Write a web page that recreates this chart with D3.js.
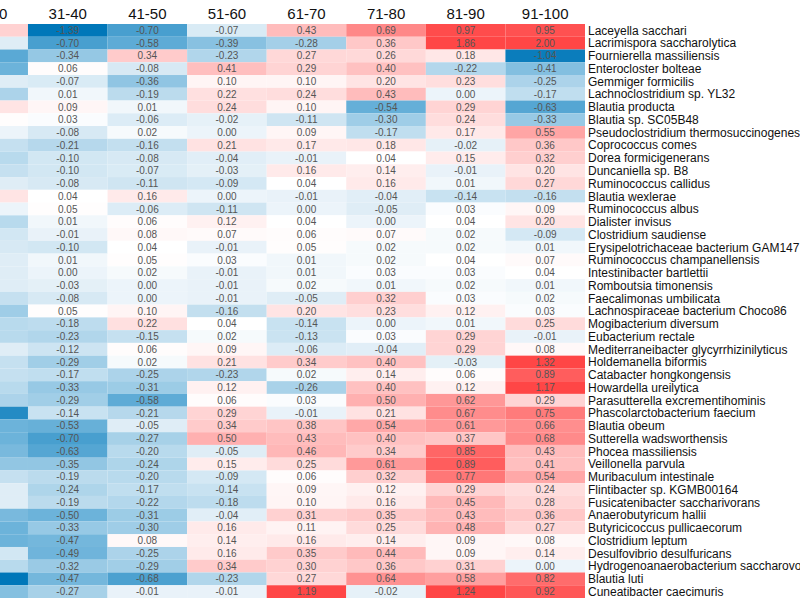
<!DOCTYPE html>
<html>
<head>
<meta charset="utf-8">
<script src="https://cdn.jsdelivr.net/npm/d3@7"></script>
<style>
  body { margin: 0; background: #fff; overflow: hidden; }
  text { font-family: "Liberation Sans", Arial, sans-serif; }
</style>
</head>
<body>
<div id="heatmap"></div>
<script>
var svgWidth = 800;
var svgHeight = 600;

// age groups (first one is cut off at the left edge)
var ageGroups = ["21-30", "31-40", "41-50", "51-60", "61-70", "71-80", "81-90", "91-100"];

var species = [
  "Laceyella sacchari", "Lacrimispora saccharolytica", "Fournierella massiliensis",
  "Enterocloster bolteae", "Gemmiger formicilis", "Lachnoclostridium sp. YL32",
  "Blautia producta", "Blautia sp. SC05B48", "Pseudoclostridium thermosuccinogenes",
  "Coprococcus comes", "Dorea formicigenerans", "Duncaniella sp. B8",
  "Ruminococcus callidus", "Blautia wexlerae", "Ruminococcus albus",
  "Dialister invisus", "Clostridium saudiense", "Erysipelotrichaceae bacterium GAM147",
  "Ruminococcus champanellensis", "Intestinibacter bartlettii", "Romboutsia timonensis",
  "Faecalimonas umbilicata", "Lachnospiraceae bacterium Choco86", "Mogibacterium diversum",
  "Eubacterium rectale", "Mediterraneibacter glycyrrhizinilyticus", "Holdemanella biformis",
  "Catabacter hongkongensis", "Howardella ureilytica", "Parasutterella excrementihominis",
  "Phascolarctobacterium faecium", "Blautia obeum", "Sutterella wadsworthensis",
  "Phocea massiliensis", "Veillonella parvula", "Muribaculum intestinale",
  "Flintibacter sp. KGMB00164", "Fusicatenibacter saccharivorans", "Anaerobutyricum hallii",
  "Butyricicoccus pullicaecorum", "Clostridium leptum", "Desulfovibrio desulfuricans",
  "Hydrogenoanaerobacterium saccharovorans", "Blautia luti", "Cuneatibacter caecimuris"
];

// one row per species, one value per age group
var values = [
  [0.30, -1.39, -0.70, -0.07, 0.43, 0.69, 0.97, 0.95],
  [-0.05, -0.70, -0.58, -0.39, -0.28, 0.36, 1.86, 2.00],
  [-0.60, -0.34, 0.34, -0.23, 0.27, 0.26, 0.18, -1.04],
  [-0.50, 0.06, -0.08, 0.41, 0.29, 0.40, -0.22, -0.41],
  [-0.05, -0.07, -0.36, 0.10, 0.10, 0.20, 0.23, -0.25],
  [-0.25, 0.01, -0.19, 0.22, 0.24, 0.43, -0.00, -0.17],
  [0.20, 0.09, 0.01, 0.24, 0.10, -0.54, 0.29, -0.63],
  [0.05, 0.03, -0.06, -0.02, -0.11, -0.30, 0.24, -0.33],
  [0.00, -0.08, 0.02, -0.00, 0.09, -0.17, 0.17, 0.55],
  [-0.15, -0.21, -0.16, 0.21, 0.17, 0.18, -0.02, 0.36],
  [-0.20, -0.10, -0.08, -0.04, -0.01, 0.04, 0.15, 0.32],
  [-0.15, -0.10, -0.07, -0.03, 0.16, 0.14, -0.01, 0.20],
  [-0.05, -0.08, -0.11, -0.09, 0.04, 0.16, 0.01, 0.27],
  [0.20, 0.04, 0.16, 0.00, -0.01, -0.04, -0.14, -0.16],
  [0.00, 0.05, -0.06, -0.11, 0.00, -0.05, 0.03, 0.09],
  [-0.20, 0.01, 0.06, 0.12, 0.04, 0.00, 0.04, 0.20],
  [-0.10, -0.01, 0.08, 0.07, 0.06, 0.07, 0.02, -0.09],
  [-0.08, -0.10, 0.04, -0.01, 0.05, 0.02, 0.02, 0.01],
  [-0.05, 0.01, 0.05, 0.03, 0.01, 0.02, 0.04, 0.07],
  [-0.05, 0.00, 0.02, -0.01, 0.01, 0.03, 0.03, 0.04],
  [-0.05, -0.03, 0.00, -0.01, 0.02, 0.01, 0.02, 0.01],
  [-0.15, -0.08, 0.00, -0.01, -0.05, 0.32, 0.03, 0.02],
  [-0.30, 0.05, 0.10, -0.16, 0.20, 0.23, 0.12, 0.03],
  [-0.20, -0.18, 0.22, 0.04, -0.14, -0.00, 0.01, 0.25],
  [-0.20, -0.23, -0.15, 0.02, -0.13, 0.03, 0.29, -0.01],
  [-0.05, -0.12, 0.06, 0.09, -0.06, -0.04, 0.29, 0.08],
  [-0.15, -0.29, 0.02, 0.21, 0.34, 0.40, -0.03, 1.32],
  [-0.15, -0.17, -0.25, -0.23, 0.02, 0.14, 0.06, 0.89],
  [-0.20, -0.33, -0.31, 0.12, -0.26, 0.40, 0.12, 1.17],
  [-0.25, -0.29, -0.58, 0.06, 0.03, 0.50, 0.62, 0.29],
  [-0.90, -0.14, -0.21, 0.29, -0.01, 0.21, 0.67, 0.75],
  [-0.50, -0.53, -0.05, 0.34, 0.38, 0.54, 0.61, 0.66],
  [-0.50, -0.70, -0.27, 0.50, 0.43, 0.40, 0.37, 0.68],
  [-0.45, -0.63, -0.20, -0.05, 0.46, 0.34, 0.85, 0.43],
  [-0.35, -0.35, -0.24, 0.15, 0.25, 0.61, 0.89, 0.41],
  [-0.15, -0.19, -0.20, -0.09, 0.06, 0.32, 0.77, 0.54],
  [-0.05, -0.24, -0.17, -0.14, 0.09, 0.12, 0.29, 0.24],
  [-0.05, -0.19, -0.22, -0.18, 0.10, 0.16, 0.45, 0.28],
  [-0.45, -0.50, -0.31, -0.04, 0.31, 0.35, 0.43, 0.36],
  [-0.50, -0.33, -0.30, 0.16, 0.11, 0.25, 0.48, 0.27],
  [-0.50, -0.47, 0.08, 0.14, 0.16, 0.14, 0.09, 0.08],
  [-0.10, -0.49, -0.25, 0.16, 0.35, 0.44, 0.09, 0.14],
  [-0.20, -0.32, -0.29, 0.34, 0.30, 0.36, 0.31, 0.00],
  [-1.10, -0.47, -0.68, -0.23, 0.27, 0.64, 0.58, 0.82],
  [-0.40, -0.27, -0.01, -0.01, 1.19, -0.02, 1.24, 0.92]
];

// flatten into cells
var cells = [];
species.forEach(function(s, i) {
  ageGroups.forEach(function(g, j) {
    cells.push({ species: s, group: g, value: values[i][j] });
  });
});

var svg = d3.select("#heatmap")
  .append("svg")
  .attr("width", svgWidth)
  .attr("height", svgHeight);

var xScale = d3.scaleBand()
  .domain(ageGroups)
  .range([-51.6, 585]);

var yScale = d3.scaleBand()
  .domain(species)
  .range([24, 598]);

// blue - white - red, saturating around +-1
var colorScale = d3.scaleLinear()
  .domain([-1.1, -0.5, -0.005, 0.04, 0.5, 1.0])
  .range(["#0077b9", "#6cb3da", "#eaf3f9", "#ffffff", "#ffb0b0", "#ff4646"])
  .clamp(true);

var cellGroup = svg.append("g");

cellGroup.selectAll("rect")
  .data(cells)
  .enter()
  .append("rect")
  .attr("x", d => xScale(d.group))
  .attr("y", d => yScale(d.species))
  .attr("width", xScale.bandwidth())
  .attr("height", yScale.bandwidth())
  .attr("fill", d => colorScale(d.value));

// value labels; the first column's numbers fall outside the window anyway
cellGroup.selectAll("text")
  .data(cells.filter(d => xScale(d.group) >= 0))
  .enter()
  .append("text")
  .attr("x", d => xScale(d.group) + xScale.bandwidth() / 2)
  .attr("y", d => yScale(d.species) + yScale.bandwidth() / 2)
  .attr("dy", "0.36em")
  .attr("text-anchor", "middle")
  .attr("font-size", "10px")
  .attr("fill", "#555")
  .text(d => d.value.toFixed(2));

// column headers
svg.append("g")
  .selectAll("text")
  .data(ageGroups)
  .enter()
  .append("text")
  .attr("x", d => xScale(d) + xScale.bandwidth() / 2)
  .attr("y", 14)
  .attr("dy", "0.36em")
  .attr("text-anchor", "middle")
  .attr("font-size", "15px")
  .attr("fill", "#111")
  .text(d => d);

// species names on the right
svg.append("g")
  .selectAll("text")
  .data(species)
  .enter()
  .append("text")
  .attr("x", 588)
  .attr("y", d => yScale(d) + yScale.bandwidth() / 2)
  .attr("dy", "0.36em")
  .attr("font-size", "12px")
  .attr("fill", "#111")
  .text(d => d);
</script>
</body>
</html>
